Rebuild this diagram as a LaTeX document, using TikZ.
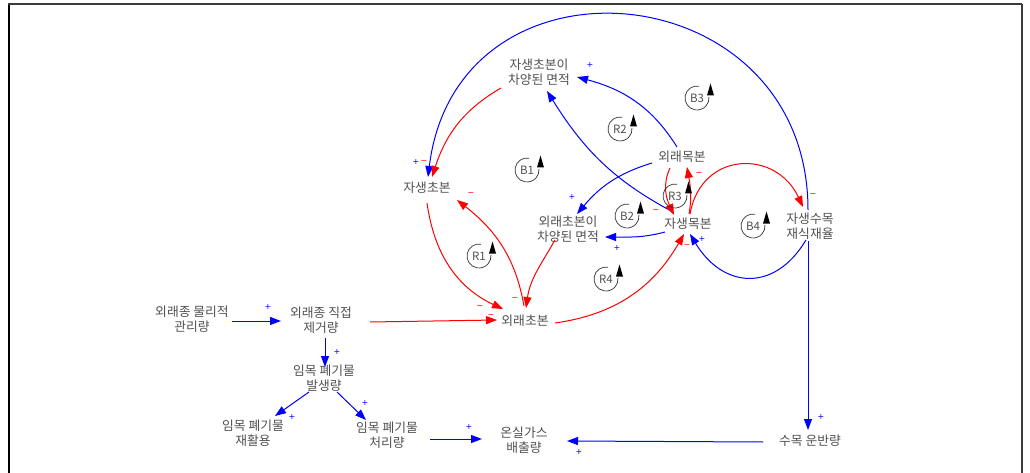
\documentclass[tikz,border=0pt]{standalone}
\usepackage{fontspec}
\setmainfont{Noto Sans CJK KR}
\newfontfamily\signfont{DejaVu Sans}
\usetikzlibrary{arrows.meta}
\definecolor{lnblue}{RGB}{0,0,255}
\definecolor{lnred}{RGB}{255,0,0}
\definecolor{txtgray}{RGB}{80,80,80}
\definecolor{framegray}{RGB}{60,60,60}

\begin{document}
\begin{tikzpicture}[x=1pt,y=1pt,
  var/.style={font=\fontsize{12.8}{14.5}\selectfont, text=txtgray, align=center, inner sep=0pt},
  link/.style={-{Triangle[length=11pt,width=8pt]}, line width=1pt},
  poslink/.style={link, draw=lnblue},
  neglink/.style={link, draw=lnred},
  psign/.style={font=\signfont\fontsize{8}{8}\selectfont, text=lnblue, inner sep=0pt},
  nsign/.style={font=\signfont\fontsize{8}{8}\selectfont, text=lnred, inner sep=0pt},
  loopmark/.pic={
    \draw[black!80, line width=0.7pt] (80:12) arc[start angle=80, end angle=365, radius=12];
    \fill[black] (10,2.5) -- (17,2.5) -- (13.5,14.5) -- cycle;
    \node[font=\fontsize{11.5}{11.5}\selectfont, text=txtgray, inner sep=0pt] (-lbl) at (0,0) {#1};
  }
]
\useasboundingbox (0,-473) rectangle (1030,0);

% frame
\draw[black, line width=1.6pt] (9,-473) -- (9,-4);
\draw[framegray, line width=2pt] (8.2,-4) -- (1022,-4);
\draw[framegray, line width=1.5pt] (1022,-4) -- (1022,-473);

% variables
\node[var] (nsa) at (539,-72)  {자생초본이\\차양된 면적};
\node[var] (emb) at (682,-157) {외래목본};
\node[var] (nh)  at (427,-188) {자생초본};
\node[var] (eha) at (568,-229) {외래초본이\\차양된 면적};
\node[var] (nwd) at (688,-224) {자생목본};
\node[var] (nts) at (810,-226) {자생수목\\재식재율};
\node[var] (eh)  at (525,-321) {외래초본};
\node[var] (pm)  at (192,-319) {외래종 물리적\\관리량};
\node[var] (dr)  at (321,-320) {외래종 직접\\제거량};
\node[var] (wg)  at (324,-378) {임목 폐기물\\발생량};
\node[var] (wr)  at (253,-433) {임목 폐기물\\재활용};
\node[var] (wt)  at (387,-435) {임목 폐기물\\처리량};
\node[var] (ghg) at (524,-440) {온실가스\\배출량};
\node[var] (tt)  at (810,-441) {수목 운반량};

% causal links
\draw[poslink] ([shift={(-2,16)}]nts.center) to[out=90,in=83,looseness=1.6] ([shift={(1,11)}]nh.center);
\draw[neglink] ([shift={(-38,-16)}]nsa.center) to[out=210,in=72] ([shift={(5,11)}]nh.center);
\draw[poslink] ([shift={(-5,10)}]emb.center) to[out=122,in=-15] ([shift={(38,-5)}]nsa.center);
\draw[poslink] ([shift={(-15,12)}]nwd.center) to[out=152,in=-58] ([shift={(8,-19)}]nsa.center);
\draw[poslink] ([shift={(-30,-6)}]emb.center) to[out=197,in=50] ([shift={(9,15)}]eha.center);
\draw[poslink] ([shift={(-23,-8)}]nwd.center) to[out=195,in=0] ([shift={(37,-8)}]eha.center);
\draw[neglink] ([shift={(-12,-11)}]emb.center) to[out=245,in=115] ([shift={(-14,9)}]nwd.center);
\draw[neglink] ([shift={(1,10)}]nwd.center) to[out=80,in=280] ([shift={(5,-10)}]emb.center);
\draw[neglink] ([shift={(2,10)}]nwd.center) to[out=80,in=115,looseness=1.45] ([shift={(-7,19)}]nts.center);
\draw[neglink] ([shift={(0,-15)}]nh.center) to[out=278,in=155] ([shift={(-22,12)}]eh.center);
\draw[neglink] ([shift={(-1,15)}]eh.center) to[out=100,in=322] ([shift={(30,-12)}]nh.center);
\draw[neglink] ([shift={(-13,-11)}]eha.center) to[out=240,in=82] ([shift={(1,13)}]eh.center);
\draw[neglink] ([shift={(30,-2)}]eh.center) to[out=8,in=240] ([shift={(-4,-10)}]nwd.center);
\draw[poslink] ([shift={(-4,-14)}]nts.center) to[out=239,in=301,looseness=1.38] ([shift={(2,-10)}]nwd.center);
\draw[neglink] ([shift={(49,-2)}]dr.center) -- ([shift={(-28,1)}]eh.center);
\draw[poslink] ([shift={(40,-2)}]pm.center) -- ([shift={(-40,-1)}]dr.center);
\draw[poslink] ([shift={(4,-18)}]dr.center) -- ([shift={(1,11)}]wg.center);
\draw[poslink] ([shift={(-15,-14)}]wg.center) -- ([shift={(22,17)}]wr.center);
\draw[poslink] ([shift={(13,-14)}]wg.center) -- ([shift={(-21,15)}]wt.center);
\draw[poslink] ([shift={(43,-4)}]wt.center) -- ([shift={(-42,1)}]ghg.center);
\draw[poslink] ([shift={(-47,-1)}]tt.center) -- ([shift={(43,-1)}]ghg.center);
\draw[poslink] ([shift={(-2,-15)}]nts.center) -- ([shift={(-2,11)}]tt.center);

% link polarities
\node[psign] (s1)  at (590,-65)  {+};
\node[psign] (s2)  at (416,-162) {+};
\node[nsign] (s3)  at (424,-162) {−};
\node[nsign] (s4)  at (471,-194) {−};
\node[psign] (s5)  at (572,-197) {+};
\node[nsign] (s6)  at (699,-174) {−};
\node[nsign] (s7)  at (656,-211) {−};
\node[psign] (s8)  at (617,-248) {+};
\node[nsign] (s9)  at (813,-195) {−};
\node[psign] (s10) at (702,-239) {+};
\node[nsign] (s11) at (687,-246) {−};
\node[nsign] (s12) at (480,-307) {−};
\node[nsign] (s13) at (515,-299) {−};
\node[nsign] (s14) at (491,-316) {−};
\node[psign] (s15) at (268,-307) {+};
\node[psign] (s16) at (337,-352) {+};
\node[psign] (s17) at (292,-417) {+};
\node[psign] (s18) at (365,-403) {+};
\node[psign] (s19) at (469,-427) {+};
\node[psign] (s20) at (579,-452) {+};
\node[psign] (s21) at (821,-417) {+};

% loop markers
\pic (lb1) at (527,-170) {loopmark=B1};
\pic (lb2) at (627,-216) {loopmark=B2};
\pic (lb3) at (697,-98)  {loopmark=B3};
\pic (lb4) at (753,-226) {loopmark=B4};
\pic (lr1) at (479,-256) {loopmark=R1};
\pic (lr2) at (620,-129) {loopmark=R2};
\pic (lr3) at (675,-196) {loopmark=R3};
\pic (lr4) at (606,-279) {loopmark=R4};
\end{tikzpicture}
\end{document}
